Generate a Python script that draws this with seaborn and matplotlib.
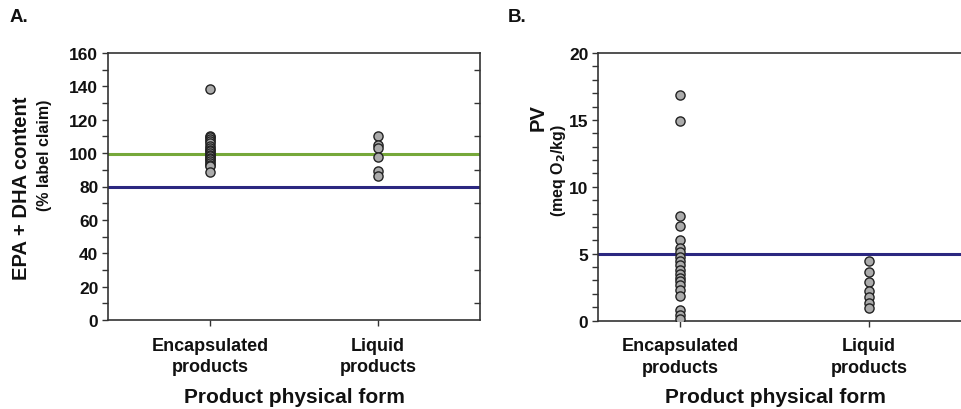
import numpy as np
import pandas as pd
import matplotlib
matplotlib.use("Agg")
import matplotlib.pyplot as plt
import seaborn as sns
from matplotlib.ticker import MultipleLocator, FixedLocator

sns.set_theme(style="white")
plt.rcParams['font.family'] = ['Liberation Sans', 'DejaVu Sans']

categories = ["Encapsulated\nproducts", "Liquid\nproducts"]

epa_encapsulated = [138.5, 110.5, 109.5, 108.5, 107, 106, 104.5, 103, 102, 101, 100,
                    99, 98, 97, 96.5, 95.5, 94, 93, 92, 88.8]
epa_liquid = [110.5, 105, 103, 97.5, 89, 86]

pv_encapsulated = [16.85, 14.9, 7.85, 7.1, 6.0, 5.45, 5.1, 4.75, 4.45, 4.15, 3.8,
                   3.5, 3.2, 2.95, 2.65, 2.3, 1.8, 0.75, 0.4, 0.1]
pv_liquid = [4.45, 3.65, 2.9, 2.2, 1.75, 1.3, 0.9]

epa_ref_lines = [99.5, 80]
pv_ref_lines = [5]

df_a = pd.DataFrame({
    "form": [categories[0]] * len(epa_encapsulated) + [categories[1]] * len(epa_liquid),
    "value": epa_encapsulated + epa_liquid,
})
df_b = pd.DataFrame({
    "form": [categories[0]] * len(pv_encapsulated) + [categories[1]] * len(pv_liquid),
    "value": pv_encapsulated + pv_liquid,
})

W, H = 962, 410
fig = plt.figure(figsize=(W / 100, H / 100), dpi=100)

def pos(l, t, r, b):
    return [l / W, 1 - b / H, (r - l) / W, (b - t) / H]

axA = fig.add_axes(pos(108, 54, 480, 321))
axB = fig.add_axes(pos(598, 54, 990, 321.5))

green = "#76a83a"
navy = "#2b2780"
marker_kw = dict(jitter=False, size=6.6, color="#ababab", edgecolor="#222222",
                 linewidth=1.0, order=categories)

# Panel A
axA.axhline(epa_ref_lines[0], color=green, lw=2.2, zorder=1)
axA.axhline(epa_ref_lines[1], color=navy, lw=2.2, zorder=1)
sns.stripplot(data=df_a, x="form", y="value", ax=axA, zorder=3, **marker_kw)
axA.set_xlim(-0.607, 1.607)
axA.set_ylim(0, 160)
axA.yaxis.set_major_locator(MultipleLocator(20))
axA.yaxis.set_minor_locator(MultipleLocator(10))

# Panel B
axB.axhline(pv_ref_lines[0], color=navy, lw=2.2, zorder=1)
sns.stripplot(data=df_b, x="form", y="value", ax=axB, zorder=3, **marker_kw)
axB.set_xlim(-0.434, 1.64)
axB.set_ylim(0, 20)
axB.yaxis.set_major_locator(MultipleLocator(5))
axB.yaxis.set_minor_locator(MultipleLocator(1))

for ax in (axA, axB):
    for s in ax.spines.values():
        s.set_visible(True)
        s.set_color("#333333")
        s.set_linewidth(1.2)
    ax.set_xlabel("")
    ax.set_ylabel("")
    ax.tick_params(axis="y", which="both", left=True, direction="out", length=4,
                   width=1, color="#333333", labelsize=12.5, pad=3)
    ax.tick_params(axis="x", which="major", bottom=True, direction="out", length=4,
                   width=1, color="#333333", labelsize=13, pad=8)
    for lab in ax.get_yticklabels():
        lab.set_fontweight("bold")
        lab.set_color("#111111")
    for lab in ax.get_xticklabels():
        lab.set_fontweight("bold")
        lab.set_color("#111111")
        lab.set_linespacing(1.35)

# right-side inward ticks in panel A
axA2 = axA.twinx()
axA2.set_ylim(axA.get_ylim())
axA2.yaxis.set_major_locator(FixedLocator([10, 30, 50, 70, 90, 110, 130, 150]))
axA2.tick_params(axis="y", direction="in", length=4, width=1, color="#333333",
                 labelright=False)
for s in axA2.spines.values():
    s.set_visible(False)

# Axis labels
fig.text(22 / W, 1 - 188 / H, "EPA + DHA content", rotation=90, ha="center", va="center",
         fontsize=14.5, fontweight="bold", color="#111111")
fig.text(44 / W, 1 - 155 / H, "(% label claim)", rotation=90, ha="center", va="center",
         fontsize=11.5, fontweight="bold", color="#111111")
fig.text(294 / W, 1 - 398 / H, "Product physical form", ha="center", va="center",
         fontsize=15, fontweight="bold", color="#111111")

fig.text(538 / W, 1 - 118 / H, "PV", rotation=90, ha="center", va="center",
         fontsize=14.5, fontweight="bold", color="#111111")
fig.text(559 / W, 1 - 170 / H, r"(meq O$_\mathbf{2}$/kg)", rotation=90, ha="center", va="center",
         fontsize=11.5, fontweight="bold", color="#111111")
fig.text(775 / W, 1 - 398 / H, "Product physical form", ha="center", va="center",
         fontsize=15, fontweight="bold", color="#111111")

fig.text(10 / W, 1 - 18 / H, "A.", ha="left", va="center", fontsize=13.5,
         fontweight="bold", color="#111111")
fig.text(508 / W, 1 - 18 / H, "B.", ha="left", va="center", fontsize=13.5,
         fontweight="bold", color="#111111")

fig.savefig("out.png", dpi=100)
